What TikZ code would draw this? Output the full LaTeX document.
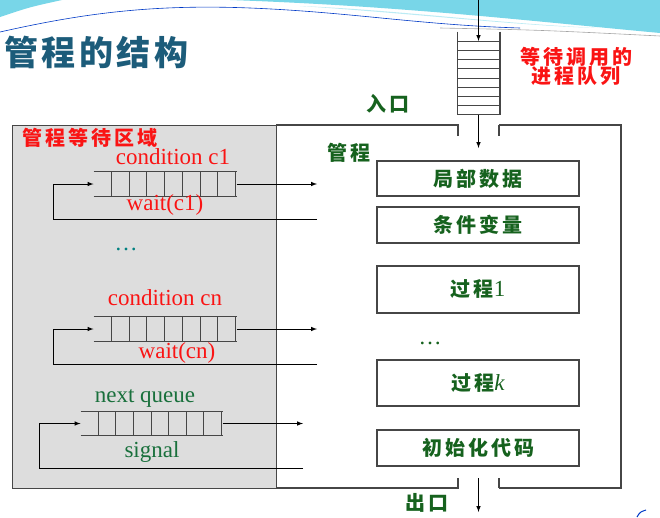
\documentclass[tikz,border=0pt]{standalone}
\usepackage{fontspec}
\usepackage{color}
\usepackage{tikz}
\setmainfont{Liberation Serif}
\newfontfamily\cjk{Noto Sans CJK SC}[LetterSpace=15]
\newfontfamily\cjkt{Noto Sans CJK SC}[LetterSpace=10]
\definecolor{titleblue}{RGB}{28,92,122}
\definecolor{labgreen}{RGB}{22,98,30}
\definecolor{qgreen}{RGB}{25,112,60}
\definecolor{labred}{RGB}{250,20,20}
\definecolor{waitgray}{RGB}{221,221,221}
\definecolor{edgegray}{RGB}{70,70,70}
\definecolor{wave}{RGB}{120,214,232}

\begin{document}
\begin{tikzpicture}[x = 1pt, y = -1pt, line width = 1pt,
    box/.style = {draw = edgegray, line width = 1.5pt, minimum width = 202pt, inner sep = 0pt,
        font = \cjk\bfseries\fontsize{20}{20}\selectfont, text = labgreen},
    lab/.style = {font = \cjk\bfseries\fontsize{20}{20}\selectfont, inner sep = 0pt},
    en/.style = {font = \fontsize{23}{23}\selectfont, inner sep = 0pt},
    queue/.style = {minimum width = 142pt, minimum height = 24pt, inner sep = 0pt}]
\useasboundingbox (0,0) rectangle (660,517);
% background wave
\fill[wave] (0,0) -- (62,0) .. controls (30,7) .. (0,17) -- cycle;
\fill[wave] (230,0) .. controls (400,6) and (520,20) .. (660,33) -- (660,0) -- cycle;
\fill[wave!50] (300,6) .. controls (420,14) and (520,26) .. (600,28) .. controls (500,24) and (400,10) .. cycle;
\draw[line width = 0.6pt, blue!55!teal] (0,32) .. controls (80,14) and (150,4) .. (250,8) .. controls (350,12) and (420,25) .. (520,28);
\draw[line width = 0.6pt, gray!70] (440,28) .. controls (540,30) .. (660,36);
\draw[line width = 1pt, blue!55!teal] (637,517) .. controls (640,512) .. (646,510);
% title
\node[anchor = west, inner sep = 0pt, font = \cjkt\bfseries\fontsize{34}{34}\selectfont, text = titleblue] (title) at (4,52) {管程的结构};

% waiting area
\draw[fill = waitgray, draw = edgegray] (12,125) rectangle (276,488);
\node[lab, labred, anchor = west] (waitlab) at (22,138) {管程等待区域};
% monitor outline
\draw[edgegray, line width = 1.3pt] (458,136) -- (458,125) -- (276,125) (276,488) -- (458,488) -- (458,478);
\draw[edgegray, line width = 1.3pt] (499,125) -- (621,125) -- (621,488) -- (499,488);
\draw[edgegray, line width = 2pt] (499,125) -- (499,136) (499,488) -- (499,478);
\node[lab, labgreen] (mon) at (349,153) {管程};

% entry queue
\node[minimum width = 41pt, minimum height = 82pt, inner sep = 0pt] (ein) at (478.5,73) {};
\draw[edgegray, line width = 1.3pt] (ein.north west) -- (ein.south west);
\draw[edgegray, line width = 2pt] (ein.north east) -- (ein.south east);
\foreach \k in {0,...,8}
    \draw[edgegray] ([yshift = \k*9.125pt]ein.south west) -- ([yshift = \k*9.125pt]ein.south east);
\coordinate (top) at (478.5,0);
\coordinate (in1) at (478.5,41);
\coordinate (entry) at (478.5,148);
\draw[-latex] (top) -- (in1);
\draw[-latex] (ein.south) -- (entry);
\node[lab, labred] (call1) at (576,57) {等待调用的};
\node[lab, labred] (call2) at (576,76) {进程队列};
\node[lab, labgreen] (inlab) at (388,104) {入口};

% monitor parts
\draw (478,178.5) node[box, minimum height = 35pt](b1){局部数据}
    (478,225) node[box, minimum height = 36pt](b2){条件变量}
    (478,289.5) node[box, minimum height = 47pt](b3){过程{\rmfamily\mdseries\fontsize{23}{23}\selectfont 1}}
    (478,383) node[box, minimum height = 46pt](b4){过程{\rmfamily\mdseries\itshape\fontsize{23}{23}\selectfont k}}
    (478,448) node[box, minimum height = 36pt](b5){初始化代码};
\node[en, labgreen] (dots2) at (430,343) {\dots};

% condition c1
\node[en, labred] (c1lab) at (173,157) {condition c1};
\node[queue] (q1) at (165,184) {};
\draw[edgegray] (q1.north west) -- (q1.north east) (q1.south west) -- (q1.south east);
\foreach \k in {1,...,8}
    \draw[edgegray] ([xshift = \k*17.75pt]q1.north west) -- ([xshift = \k*17.75pt]q1.south west);
\node[en, labred] (w1) at (165,205) {wait(c1)};
\coordinate (l1) at (53,184);
\coordinate (r1) at (317,219);
\coordinate (o1) at (317,184);
\draw[-latex] (q1.east) -- (o1);
\draw[-latex] (r1) -| (l1) -- (q1.west);

\node[en, teal] (dots1) at (126,249) {\dots};

% condition cn
\node[en, labred] (cnlab) at (165,298) {condition cn};
\node[queue] (qn) at (165,329) {};
\draw[edgegray] (qn.north west) -- (qn.north east) (qn.south west) -- (qn.south east);
\foreach \k in {1,...,8}
    \draw[edgegray] ([xshift = \k*17.75pt]qn.north west) -- ([xshift = \k*17.75pt]qn.south west);
\node[en, labred] (wn) at (177,353) {wait(cn)};
\coordinate (ln) at (53,329);
\coordinate (rn) at (317,364);
\coordinate (on) at (317,329);
\draw[-latex] (qn.east) -- (on);
\draw[-latex] (rn) -| (ln) -- (qn.west);

% next queue
\node[en, qgreen] (nxlab) at (145,398) {next queue};
\node[queue, minimum width = 141pt, minimum height = 23pt] (qx) at (151.5,423.5) {};
\draw[edgegray] (qx.north west) -- (qx.north east) (qx.south west) -- (qx.south east);
\foreach \k in {1,...,8}
    \draw[edgegray] ([xshift = \k*17.625pt]qx.north west) -- ([xshift = \k*17.625pt]qx.south west);
\node[en, qgreen] (sig) at (152,452) {signal};
\coordinate (lx) at (39,423.5);
\coordinate (rx) at (303,468);
\coordinate (ox) at (303,423.5);
\draw[-latex] (qx.east) -- (ox);
\draw[-latex] (rx) -| (lx) -- (qx.west);

% exit
\coordinate (out0) at (478.5,478);
\coordinate (out1) at (478.5,512);
\draw[-latex] (out0) -- (out1);
\node[lab, labgreen] (outlab) at (427,503) {出口};
\end{tikzpicture}
\end{document}
